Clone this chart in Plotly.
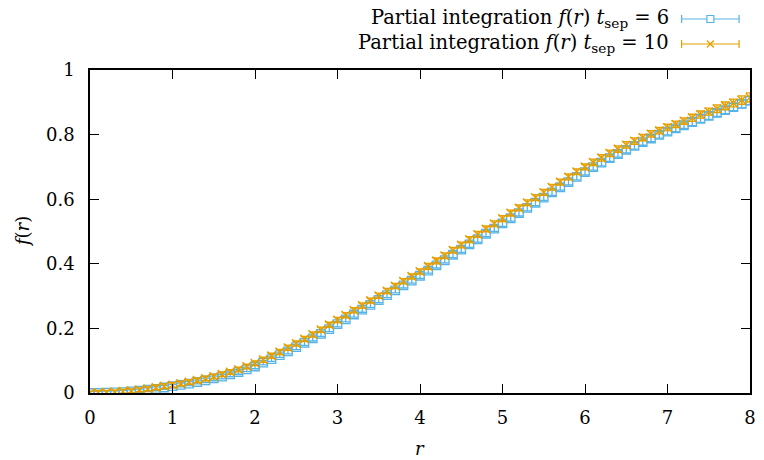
import plotly.graph_objects as go

# ---------------- data ----------------
r = [0.0, 0.1, 0.2, 0.3, 0.4, 0.5, 0.6, 0.7, 0.8, 0.9,
     1.0, 1.1, 1.2, 1.3, 1.4, 1.5, 1.6, 1.7, 1.8, 1.9,
     2.0, 2.1, 2.2, 2.3, 2.4, 2.5, 2.6, 2.7, 2.8, 2.9,
     3.0, 3.1, 3.2, 3.3, 3.4, 3.5, 3.6, 3.7, 3.8, 3.9,
     4.0, 4.1, 4.2, 4.3, 4.4, 4.5, 4.6, 4.7, 4.8, 4.9,
     5.0, 5.1, 5.2, 5.3, 5.4, 5.5, 5.6, 5.7, 5.8, 5.9,
     6.0, 6.1, 6.2, 6.3, 6.4, 6.5, 6.6, 6.7, 6.8, 6.9,
     7.0, 7.1, 7.2, 7.3, 7.4, 7.5, 7.6, 7.7, 7.8, 7.9,
     8.0]

f_t6 = [0.000, 0.000, 0.001, 0.002, 0.003, 0.005, 0.007, 0.010, 0.013, 0.017,
        0.021, 0.025, 0.029, 0.034, 0.039, 0.045, 0.051, 0.058, 0.065, 0.073,
        0.082, 0.094, 0.105, 0.117, 0.129, 0.142, 0.155, 0.169, 0.183, 0.198,
        0.213, 0.228, 0.243, 0.258, 0.273, 0.288, 0.303, 0.318, 0.333, 0.348,
        0.363, 0.379, 0.395, 0.411, 0.428, 0.444, 0.460, 0.476, 0.493, 0.509,
        0.525, 0.541, 0.557, 0.573, 0.589, 0.605, 0.621, 0.637, 0.653, 0.669,
        0.684, 0.699, 0.713, 0.727, 0.740, 0.753, 0.765, 0.777, 0.788, 0.799,
        0.809, 0.819, 0.829, 0.839, 0.849, 0.858, 0.867, 0.876, 0.885, 0.895,
        0.905]
e_t6 = [0.005, 0.005, 0.005, 0.005, 0.005, 0.005, 0.005, 0.006, 0.006, 0.006,
        0.006, 0.006, 0.006, 0.006, 0.007, 0.007, 0.007, 0.007, 0.007, 0.007,
        0.007, 0.007, 0.007, 0.007, 0.008, 0.008, 0.008, 0.008, 0.008, 0.008,
        0.008, 0.008, 0.008, 0.008, 0.008, 0.008, 0.008, 0.008, 0.008, 0.008,
        0.008, 0.008, 0.008, 0.008, 0.009, 0.009, 0.009, 0.009, 0.009, 0.009,
        0.009, 0.009, 0.009, 0.009, 0.009, 0.009, 0.009, 0.009, 0.009, 0.009,
        0.009, 0.009, 0.010, 0.010, 0.010, 0.010, 0.010, 0.010, 0.010, 0.010,
        0.010, 0.010, 0.010, 0.011, 0.011, 0.011, 0.011, 0.011, 0.011, 0.012,
        0.012]

f_t10 = [0.000, 0.001, 0.002, 0.003, 0.005, 0.007, 0.010, 0.013, 0.017, 0.021,
         0.025, 0.029, 0.034, 0.039, 0.045, 0.051, 0.058, 0.065, 0.073, 0.082,
         0.092, 0.103, 0.115, 0.127, 0.140, 0.153, 0.167, 0.181, 0.196, 0.211,
         0.226, 0.241, 0.256, 0.271, 0.286, 0.301, 0.316, 0.331, 0.346, 0.361,
         0.376, 0.392, 0.409, 0.425, 0.442, 0.458, 0.475, 0.491, 0.508, 0.524,
         0.540, 0.557, 0.573, 0.589, 0.605, 0.621, 0.637, 0.653, 0.669, 0.685,
         0.700, 0.714, 0.728, 0.742, 0.755, 0.768, 0.780, 0.791, 0.802, 0.812,
         0.822, 0.832, 0.842, 0.852, 0.862, 0.871, 0.880, 0.889, 0.898, 0.907,
         0.915]
e_t10 = [0.006, 0.006, 0.006, 0.006, 0.006, 0.006, 0.006, 0.006, 0.007, 0.007,
         0.007, 0.007, 0.007, 0.007, 0.007, 0.007, 0.007, 0.007, 0.007, 0.007,
         0.007, 0.008, 0.008, 0.008, 0.008, 0.008, 0.008, 0.008, 0.008, 0.008,
         0.008, 0.008, 0.008, 0.008, 0.008, 0.008, 0.008, 0.008, 0.008, 0.008,
         0.008, 0.009, 0.009, 0.009, 0.009, 0.009, 0.009, 0.009, 0.009, 0.009,
         0.009, 0.009, 0.009, 0.009, 0.009, 0.009, 0.009, 0.009, 0.009, 0.009,
         0.009, 0.010, 0.010, 0.010, 0.010, 0.010, 0.010, 0.010, 0.010, 0.010,
         0.010, 0.010, 0.010, 0.011, 0.011, 0.011, 0.012, 0.012, 0.012, 0.013,
         0.014]

x_ticks = [0, 1, 2, 3, 4, 5, 6, 7, 8]
x_labels = ["0", "1", "2", "3", "4", "5", "6", "7", "8"]
y_ticks = [0, 0.2, 0.4, 0.6, 0.8, 1]
y_labels = ["0", "0.2", "0.4", "0.6", "0.8", "1"]

labels = ["Partial integration <i>f</i>(<i>r</i>) <i>t</i><sub>sep</sub> = 6",
          "Partial integration <i>f</i>(<i>r</i>) <i>t</i><sub>sep</sub> = 10"]

# ---------------- style ----------------
BLUE = "#56B4E9"
ORANGE = "#E69F00"
FONT = "'DejaVu Serif', 'Liberation Serif', serif"
FS = 18
FS_KEY = 19.5

fig = go.Figure()
fig.add_trace(go.Scatter(
    x=r, y=f_t6, mode="markers", name=labels[0],
    marker=dict(symbol="square-open", size=8.5, color=BLUE, line=dict(width=1.3, color=BLUE)),
    error_y=dict(type="data", array=e_t6, color=BLUE, thickness=1.3, width=4),
    showlegend=False))
fig.add_trace(go.Scatter(
    x=r, y=f_t10, mode="markers", name=labels[1],
    marker=dict(symbol="x-thin-open", size=8.5, color=ORANGE, line=dict(width=1.5, color=ORANGE)),
    error_y=dict(type="data", array=e_t10, color=ORANGE, thickness=1.3, width=4),
    showlegend=False))

# ---------------- manual gnuplot-style key ----------------
W, H = 764, 460
ml, mr, mt, mb = 90, 8, 70, 67
pw, ph = W - ml - mr, H - mt - mb

def px2paper_x(px):
    return (px - ml) / pw

def px2paper_y(py):
    return (H - mb - py) / ph

shapes = []
annotations = []
rows = [(19, BLUE, "square"), (44, ORANGE, "x")]
for (py, col, sym), lab in zip(rows, labels):
    yy = px2paper_y(py)
    x0, x1, xm = px2paper_x(687), px2paper_x(745), px2paper_x(716)
    cap = 4 / ph
    shapes.append(dict(type="line", xref="paper", yref="paper", x0=x0, x1=x1, y0=yy, y1=yy,
                       line=dict(color=col, width=1.2)))
    for xc in (x0, x1):
        shapes.append(dict(type="line", xref="paper", yref="paper", x0=xc, x1=xc,
                           y0=yy - cap, y1=yy + cap, line=dict(color=col, width=1.2)))
    hx = 3.5 / pw
    hy = 3.5 / ph
    if sym == "square":
        shapes.append(dict(type="rect", xref="paper", yref="paper", x0=xm - hx, x1=xm + hx,
                           y0=yy - hy, y1=yy + hy, line=dict(color=col, width=1.2),
                           fillcolor="white"))
    else:
        shapes.append(dict(type="line", xref="paper", yref="paper", x0=xm - hx, x1=xm + hx,
                           y0=yy - hy, y1=yy + hy, line=dict(color=col, width=1.3)))
        shapes.append(dict(type="line", xref="paper", yref="paper", x0=xm - hx, x1=xm + hx,
                           y0=yy + hy, y1=yy - hy, line=dict(color=col, width=1.3)))
    annotations.append(dict(text=lab, xref="paper", yref="paper", x=px2paper_x(676), y=yy,
                            xanchor="right", yanchor="middle", showarrow=False,
                            font=dict(family=FONT, size=FS_KEY, color="black")))

# axis titles
annotations.append(dict(text="<i>r</i>", xref="paper", yref="paper", x=0.5,
                        y=px2paper_y(448), xanchor="center", yanchor="middle", showarrow=False,
                        font=dict(family=FONT, size=FS, color="black")))
annotations.append(dict(text="<i>f</i>(<i>r</i>)", xref="paper", yref="paper",
                        x=px2paper_x(22), y=0.5, xanchor="center", yanchor="middle",
                        showarrow=False, textangle=-90,
                        font=dict(family=FONT, size=FS, color="black")))

fig.update_layout(
    width=W, height=H,
    margin=dict(l=ml, r=mr, t=mt, b=mb, pad=0),
    paper_bgcolor="white", plot_bgcolor="white",
    font=dict(family=FONT, size=FS, color="black"),
    shapes=shapes, annotations=annotations,
    showlegend=False,
)
fig.update_xaxes(range=[0, 8], tickvals=x_ticks, ticktext=x_labels,
                 showgrid=False, zeroline=False, showline=True, linecolor="black",
                 linewidth=1.5, mirror="allticks", ticks="inside", ticklen=9,
                 tickwidth=1.2, tickcolor="black", ticklabelstandoff=8,
                 tickfont=dict(family=FONT, size=FS))
fig.update_yaxes(range=[0, 1], tickvals=y_ticks, ticktext=y_labels,
                 showgrid=False, zeroline=False, showline=True, linecolor="black",
                 linewidth=1.5, mirror="allticks", ticks="inside", ticklen=9,
                 tickwidth=1.2, tickcolor="black", ticklabelstandoff=10,
                 tickfont=dict(family=FONT, size=FS))

fig.write_html("out.html")
